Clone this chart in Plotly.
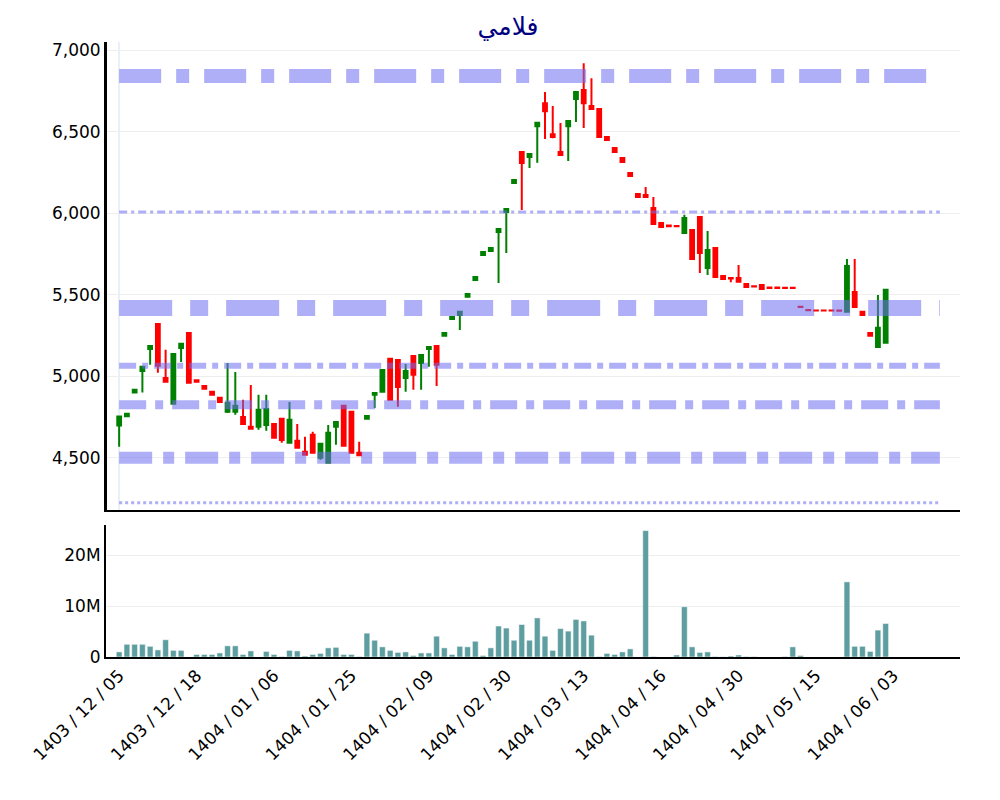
import plotly.graph_objects as go
from plotly.subplots import make_subplots

# daily candles (index = trading day)
opens = [4698, 4755, 4900, 5033, 5168, 5321, 4990, 4831, 5174, 5266,
         4975, 4941, 4905, 4868, 4782, 4782, 4751, 4690, 4690, 4702,
         4708, 4739, 4592, 4604, 4537, 4641, 4500, 4470, 4690, 4819,
         4782, 4531, 4739, 4886, 4905, 5107, 5100, 4990, 5125, 5082,
         5168, 5186, 5248, 5352, 5376, 5487, 5591, 5744, 5768, 5885,
         6007, 6185, 6375, 6344, 6534, 6675, 6485, 6375, 6534, 6700,
         6755, 6657, 6639, 6467, 6400, 6338, 6246, 6118, 6112, 6032,
         5940, 5924, 5922, 5879, 5897, 5977, 5664, 5787, 5615, 5603,
         5603, 5566, 5552, 5560, 5544, 5544, 5543, 5543, 5427, 5407,
         5404, 5404, 5404, 5403, 5395, 5517, 5395, 5266, 5180, 5205]
highs = [4760, 4772, 4920, 5062, 5190, 5325, 5162, 5140, 5202, 5270,
         4978, 4944, 4908, 4871, 5082, 5027, 4856, 4947, 4886, 4886,
         4711, 4742, 4843, 4708, 4629, 4660, 4590, 4702, 4724, 4825,
         4786, 4598, 4760, 4900, 5042, 5110, 5103, 5076, 5128, 5134,
         5183, 5189, 5269, 5367, 5398, 5508, 5612, 5765, 5790, 5906,
         6029, 6206, 6378, 6366, 6558, 6743, 6657, 6553, 6568, 6746,
         6920, 6828, 6642, 6470, 6403, 6341, 6249, 6121, 6161, 6100,
         5943, 5927, 5925, 5990, 5900, 5980, 5891, 5790, 5618, 5606,
         5683, 5569, 5555, 5563, 5547, 5547, 5546, 5546, 5430, 5410,
         5407, 5407, 5407, 5406, 5720, 5720, 5398, 5269, 5499, 5533]
lows = [4568, 4752, 4897, 4900, 5070, 5021, 4960, 4828, 5088, 4957,
        4963, 4920, 4883, 4840, 4775, 4764, 4705, 4675, 4672, 4666,
        4620, 4592, 4589, 4558, 4516, 4525, 4488, 4465, 4580, 4571,
        4528, 4512, 4736, 4806, 4902, 4853, 4813, 4905, 4917, 4917,
        5058, 4941, 5245, 5349, 5284, 5484, 5588, 5741, 5765, 5572,
        5756, 6182, 6020, 6277, 6310, 6455, 6460, 6354, 6320, 6559,
        6522, 6636, 6464, 6446, 6372, 6311, 6225, 6096, 6097, 5931,
        5912, 5917, 5919, 5876, 5717, 5634, 5621, 5606, 5594, 5576,
        5576, 5545, 5547, 5533, 5539, 5539, 5540, 5540, 5424, 5404,
        5400, 5400, 5400, 5400, 5392, 5422, 5373, 5245, 5177, 5202]
closes = [4753, 4770, 4917, 5058, 5186, 5064, 4966, 5137, 5199, 4960,
          4966, 4923, 4886, 4843, 4837, 4819, 4708, 4678, 4794, 4800,
          4623, 4610, 4733, 4561, 4519, 4531, 4586, 4653, 4720, 4574,
          4531, 4515, 4757, 4898, 5039, 4856, 4935, 5033, 5009, 5131,
          5180, 5070, 5266, 5364, 5395, 5505, 5609, 5762, 5787, 5903,
          6026, 6203, 6308, 6363, 6555, 6626, 6467, 6357, 6565, 6743,
          6675, 6639, 6467, 6449, 6375, 6314, 6228, 6099, 6100, 5934,
          5915, 5920, 5920, 5971, 5720, 5756, 5775, 5609, 5597, 5600,
          5579, 5548, 5550, 5536, 5542, 5542, 5542, 5542, 5425, 5405,
          5403, 5403, 5403, 5402, 5677, 5425, 5376, 5248, 5297, 5530]
volumes = [1.0, 2.5, 2.5, 2.5, 2.1, 1.4, 3.4, 1.3, 1.3, 0.0,
           0.5, 0.5, 0.5, 0.8, 2.2, 2.2, 0.5, 1.2, 0.0, 1.1,
           0.5, 0.1, 1.3, 1.2, 0.2, 0.5, 0.7, 1.8, 1.9, 0.5,
           0.5, 0.1, 4.7, 3.3, 2.0, 1.3, 0.9, 1.0, 0.3, 0.8,
           0.8, 4.1, 1.8, 0.5, 2.1, 2.0, 3.1, 0.3, 1.8, 6.1,
           5.7, 3.3, 6.4, 3.3, 7.7, 4.1, 1.3, 5.6, 5.1, 7.4,
           7.1, 4.3, 0.1, 0.7, 0.5, 1.0, 1.6, 0.0, 24.9, 0.1,
           0.0, 0.0, 0.4, 9.9, 2.0, 0.9, 1.0, 0.1, 0.05, 0.2,
           0.4, 0.1, 0.1, 0.0, 0.0, 0.0, 0.1, 2.0, 0.3, 0.0,
           0.0, 0.0, 0.0, 0.0, 14.8, 2.1, 2.1, 1.1, 5.3, 6.6]
volumes = [v * 1e6 for v in volumes]
days = list(range(len(opens)))

tick_pos = [0, 10, 20, 30, 40, 50, 60, 70, 80, 90, 100]
tick_text = ["1403 / 12 / 05", "1403 / 12 / 18", "1404 / 01 / 06", "1404 / 01 / 25",
             "1404 / 02 / 09", "1404 / 02 / 30", "1404 / 03 / 13", "1404 / 04 / 16",
             "1404 / 04 / 30", "1404 / 05 / 15", "1404 / 06 / 03"]

# support / resistance levels: price, width, dash
levels = [6841, 6007, 5419, 5064, 4825, 4500, 4224]
level_widths = [14, 3, 16, 6, 9, 12, 3]
level_dashes = ["42px,15px,13px,15px", "8px,4px,3px,4px", "53px,18px,18px,18px",
                "17px,6px,6px,6px", "27px,9px,8px,9px", "33px,11px,11px,11px", "3px,3px"]

fig = make_subplots(rows=2, cols=1, shared_xaxes=True, vertical_spacing=0.0244,
                    row_heights=[0.78, 0.22])

fig.add_trace(go.Candlestick(x=days, open=opens, high=highs, low=lows, close=closes,
                             increasing=dict(line=dict(color="green", width=2), fillcolor="green"),
                             decreasing=dict(line=dict(color="red", width=2), fillcolor="red"),
                             whiskerwidth=0, showlegend=False), row=1, col=1)
fig.add_trace(go.Bar(x=days, y=volumes, marker_color="cadetblue", showlegend=False),
              row=2, col=1)

for price, w, d in zip(levels, level_widths, level_dashes):
    fig.add_shape(type="line", x0=0, x1=106, y0=price, y1=price, xref="x", yref="y",
                  line=dict(color="rgba(110,110,240,0.55)", width=w, dash=d), layer="above")

# left border of the price panel
fig.add_shape(type="line", x0=0, x1=0, y0=0, y1=1, xref="x domain", yref="y domain",
              line=dict(color="black", width=2), layer="above")

fig.update_layout(
    width=1000, height=800, template="plotly_white", bargap=0.25,
    title=dict(text="فلامي", x=0.5, y=0.988, font=dict(size=25, color="#000080")),
    margin=dict(l=98, r=48, t=34, b=151),
    font=dict(family="DejaVu Sans", size=17, color="black"),
    xaxis_rangeslider_visible=False,
)
fig.update_xaxes(range=[-1.7, 108.6], showgrid=False, showline=True, linecolor="black",
                 linewidth=2, tickvals=tick_pos, ticktext=tick_text, tickangle=-45)
fig.update_yaxes(showline=True, linecolor="black", linewidth=2, gridcolor="#eeeeee",
                 zeroline=False, automargin=False)
fig.update_yaxes(range=[4180, 7050], tickvals=[4500, 5000, 5500, 6000, 6500, 7000],
                 tickformat=",d", row=1, col=1)
fig.update_yaxes(range=[0, 26e6], tickvals=[0, 10e6, 20e6], ticktext=["0", "10M", "20M"],
                 row=2, col=1)

fig.write_html("out.html")
